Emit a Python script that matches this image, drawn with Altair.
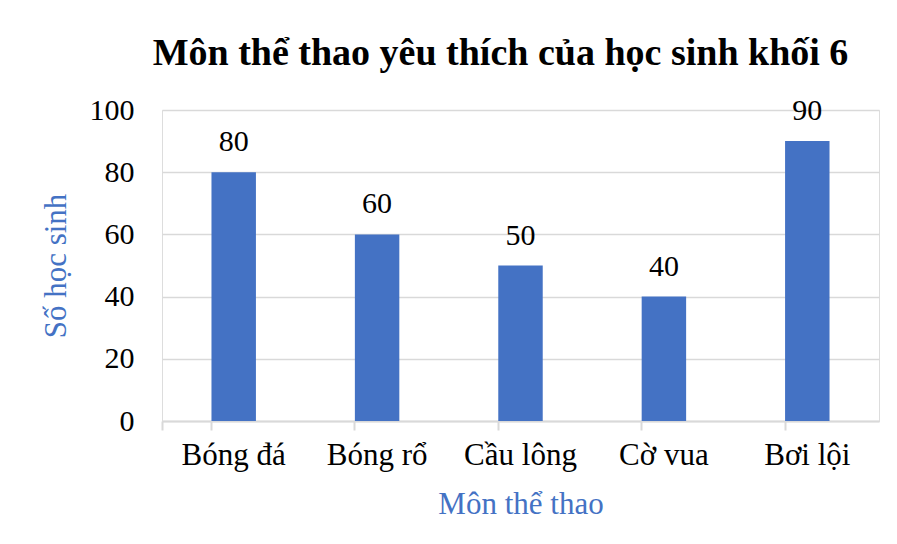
import altair as alt
import pandas as pd

categories = ["Bóng đá", "Bóng rổ", "Cầu lông", "Cờ vua", "Bơi lội"]
values = [80, 60, 50, 40, 90]

df = pd.DataFrame({"sport": categories, "count": values})

FONT = "Times New Roman, Liberation Serif, serif"
BLUE = "#4472C4"

x = alt.X("sport:N", sort=categories,
          scale=alt.Scale(paddingInner=0.69, paddingOuter=0.345),
          axis=alt.Axis(title="Môn thể thao", labelAngle=0, labelFont=FONT, labelFontSize=31,
                        labelColor="black", labelPadding=10, titleFont=FONT, titleFontSize=31,
                        titleFontWeight="normal", titleColor=BLUE, titlePadding=19,
                        domainColor="#d9d9d9", domainWidth=2, ticks=True, tickColor="#d9d9d9",
                        tickWidth=2, tickSize=9, bandPosition=0, tickExtra=True, grid=False))
y = alt.Y("count:Q", scale=alt.Scale(domain=[0, 100]),
          axis=alt.Axis(title="Số học sinh", values=[0, 20, 40, 60, 80, 100], labelFont=FONT,
                        labelFontSize=30, labelColor="black", labelPadding=28, tickSize=0,
                        domain=False, gridColor="#d9d9d9", gridWidth=1.5, titleFont=FONT,
                        titleFontSize=31, titleFontWeight="normal", titleColor=BLUE,
                        titlePadding=17))

bars = alt.Chart(df).mark_bar(color=BLUE).encode(x=x, y=y)
labels = alt.Chart(df).mark_text(font=FONT, fontSize=30, color="black", baseline="bottom",
                                 dy=-15).encode(x=x, y=y, text="count:Q")

chart = (bars + labels).properties(
    width=717, height=311,
    padding={"left": 32, "top": 27, "right": 10, "bottom": 5},
    title=alt.TitleParams("Môn thể thao yêu thích của học sinh khối 6", font=FONT, fontSize=38,
                          fontWeight="bold", color="black", anchor="middle", offset=22, dx=-20),
).configure_view(stroke=None).configure(background="white")

chart.save("out.html", embed_options={"renderer": "svg", "actions": False})
